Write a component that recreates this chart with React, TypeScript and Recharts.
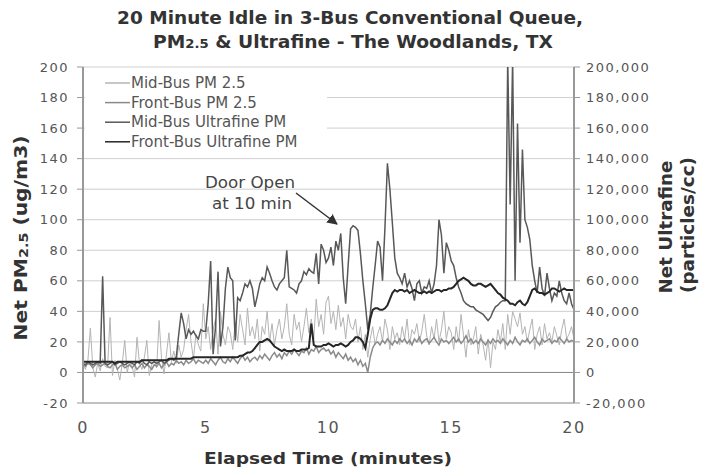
import React from 'react';
import { LineChart, Line, XAxis, YAxis, CartesianGrid, ReferenceLine } from 'recharts';

// readings every 0.1 min, 0..20 min
const MID_PM25 = [
  5, 2, 8, 29, 3, -3, 6, 1, 9, 4,
  3, 36, -2, 8, 2, -5, 6, 21, 0, 7,
  4, -3, 23, 6, 2, 10, 21, -2, 5, 8,
  3, 34, 9, -1, 12, 26, 7, 14, 6, 18,
  10, 15, 28, 38, 20, 9, 25, 18, 14, 45,
  22, 30, 15, 28, 35, 12, 40, 25, 18, 30,
  26, 15, 33, 20, 38, 28, 18, 42, 24, 30,
  22, 35, 14, 30, 25, 40, 20, 32, 18, 28,
  35, 22, 30, 45, 25, 18, 38, 28, 33, 20,
  30, 42, 26, 35, 22, 48, 30, 38, 25, 46,
  50, 32, 40, 28, 44, 30, 36, 22, 38, 30,
  28, 35, 20, 30, 15, 25, 10, 22, 30, 18,
  25, 30, 20, 35, 28, 15, 30, 22, 26, 18,
  30, 22, 35, 18, 28, 25, 32, 20, 27, 38,
  24, 18, 30, 22, 35, 20, 28, 40, 22, 30,
  26, 15, 30, 20, 38, 24, 10, 28, 18, 22,
  30, 12, 25, 18, 8, 22, 3, 20, 15, 28,
  20, 32, 15, 38, 25, 40, 35, 30, 39, 25,
  30, 20, 28, 35, 15, 25, 30, 18, 32, 22,
  26, 20, 30, 24, 18, 28, 35, 22, 25, 30,
  22,
];

const FRONT_PM25 = [
  5, 4, 6, 5, 3, 5, 6, 4, 5, 6,
  4, 3, 5, 6, 2, 4, 5, 3, 4, 5,
  3, 5, 2, 4, 6, 3, 5, 4, 2, 5,
  4, 6, 3, 5, 7, 4, 6, 5, 8, 6,
  7, 5, 8, 6, 7, 9, 6, 8, 7, 6,
  8, 6, 9, 7, 5, 8, 10, 7, 6, 9,
  7, 10, 8, 6, 9, 11, 8, 10, 7, 9,
  10, 8, 11, 9, 12, 10, 8, 11, 13, 10,
  12, 9, 13, 11, 14, 12, 15, 13, 11, 14,
  13, 16, 12, 15, 14, 17, 13, 15, 16, 14,
  15, 12, 14, 10, 13, 11, 9, 12, 8, 10,
  7, 9, 5, 8, 4, 6, 0, 10, 16, 19,
  20, 18, 21, 19, 22, 20, 18, 21, 19, 22,
  20, 22, 19, 21, 18, 22, 20, 23, 19, 21,
  22, 19, 21, 23, 20, 18, 22, 20, 21, 19,
  21, 23, 20, 22, 19, 21, 24, 20, 22, 19,
  21, 19, 22, 20, 18, 21, 19, 22, 20, 21,
  19, 22, 20, 18, 21, 19, 23, 20, 18, 21,
  20, 22, 19, 21, 23, 20, 18, 22, 20, 21,
  22, 19, 21, 20, 23, 21, 19, 22, 20, 21,
  20,
];

const MID_UFP = [
  6000, 5000, 7000, 6000, 5000, 6000, 7000, 6000, 63000, 6000,
  5000, 6000, 7000, 5000, 6000, 7000, 6000, 5000, 6000, 7000,
  6000, 5000, 7000, 6000, 8000, 6000, 5000, 7000, 6000, 7000,
  6000, 7000, 8000, 6000, 7000, 8000, 9000, 8000, 10000, 25000,
  39000, 32000, 22000, 28000, 25000, 27000, 24000, 22000, 28000, 27000,
  27000, 45000, 73000, 12000, 30000, 66000, 17000, 30000, 55000, 69000,
  62000, 60000, 21000, 49000, 47000, 52000, 58000, 56000, 60000, 55000,
  43000, 50000, 58000, 62000, 60000, 69000, 65000, 60000, 56000, 54000,
  58000, 60000, 62000, 80000, 56000, 55000, 54000, 52000, 58000, 60000,
  66000, 64000, 68000, 66000, 65000, 78000, 58000, 84000, 80000, 72000,
  75000, 82000, 70000, 86000, 80000, 91000, 62000, 45000, 70000, 94000,
  96000, 95000, 93000, 78000, 60000, 45000, 28000, 38000, 55000, 70000,
  86000, 82000, 60000, 95000, 137000, 120000, 98000, 75000, 65000, 62000,
  58000, 65000, 56000, 60000, 55000, 47000, 58000, 60000, 52000, 56000,
  55000, 60000, 52000, 58000, 70000, 100000, 90000, 65000, 85000, 80000,
  73000, 70000, 62000, 56000, 52000, 47000, 45000, 44000, 43000, 43000,
  41000, 40000, 39000, 38000, 36000, 34000, 36000, 40000, 43000, 44000,
  46000, 47000, 47000, 205000, 110000, 205000, 60000, 163000, 85000, 146000,
  100000, 95000, 87000, 70000, 60000, 52000, 69000, 55000, 50000, 65000,
  55000, 47000, 52000, 50000, 60000, 52000, 47000, 45000, 52000, 45000,
  41000,
];

const FRONT_UFP = [
  7000, 7000, 7000, 7000, 7000, 7000, 7000, 7000, 7000, 7000,
  7000, 7000, 7000, 6000, 7000, 7000, 7000, 7000, 7000, 7000,
  7000, 7000, 7000, 7000, 8000, 8000, 8000, 8000, 8000, 8000,
  8000, 8000, 8000, 8000, 8000, 9000, 9000, 9000, 9000, 9000,
  9000, 9000, 9000, 9000, 9000, 10000, 10000, 10000, 10000, 10000,
  10000, 10000, 10000, 10000, 10000, 10000, 10000, 10000, 10000, 10000,
  10000, 10000, 10000, 10000, 11000, 11000, 12000, 13000, 13000, 14000,
  16000, 18000, 20000, 20000, 21000, 22000, 21000, 19000, 17000, 16000,
  15000, 14000, 15000, 14000, 14000, 14000, 15000, 14000, 14000, 15000,
  15000, 15000, 16000, 32000, 18000, 17000, 17000, 17000, 18000, 18000,
  19000, 18000, 17000, 18000, 18000, 19000, 18000, 17000, 18000, 20000,
  21000, 23000, 23000, 22000, 20000, 16000, 25000, 35000, 41000, 42000,
  42000, 41000, 41000, 42000, 44000, 48000, 52000, 54000, 53000, 54000,
  54000, 53000, 54000, 52000, 53000, 54000, 53000, 52000, 52000, 53000,
  52000, 53000, 52000, 53000, 54000, 54000, 53000, 54000, 54000, 55000,
  55000, 56000, 58000, 60000, 61000, 62000, 61000, 60000, 58000, 57000,
  57000, 58000, 58000, 57000, 56000, 57000, 58000, 56000, 54000, 52000,
  51000, 49000, 48000, 47000, 45000, 45000, 44000, 46000, 47000, 45000,
  44000, 46000, 50000, 54000, 55000, 53000, 52000, 52000, 51000, 52000,
  53000, 55000, 55000, 54000, 53000, 54000, 55000, 54000, 54000, 54000,
  54000,
];

const PM_TICKS = [-20, 0, 20, 40, 60, 80, 100, 120, 140, 160, 180, 200];
const UFP_TICKS = [-20000, 0, 20000, 40000, 60000, 80000, 100000, 120000, 140000, 160000, 180000, 200000];
const TIME_TICKS = [0, 5, 10, 15, 20];

const SERIES = [
  { key: 'midPm', name: 'Mid-Bus PM 2.5', color: '#b4b4b4', width: 1, axis: 'left' },
  { key: 'frontPm', name: 'Front-Bus PM 2.5', color: '#8a8a8a', width: 1.5, axis: 'left' },
  { key: 'midUfp', name: 'Mid-Bus Ultrafine PM', color: '#585858', width: 1.5, axis: 'right' },
  { key: 'frontUfp', name: 'Front-Bus Ultrafine PM', color: '#262626', width: 2, axis: 'right' },
];

const data = MID_PM25.map((v, i) => ({
  t: i / 10,
  midPm: v,
  frontPm: FRONT_PM25[i],
  midUfp: MID_UFP[i],
  frontUfp: FRONT_UFP[i],
}));

const tickStyle = { fontSize: 13, fill: '#555', letterSpacing: 1.5 };

export default function App() {
  return (
    <div style={{ position: 'absolute', left: 0, top: 0, width: 712, height: 469, background: '#fff', fontFamily: 'DejaVu Sans' }}>
      <LineChart width={712} height={469} data={data} margin={{ top: 67, right: 58, bottom: 36, left: 0 }}>
        <CartesianGrid yAxisId="left" vertical={false} stroke="#cfcfcf" />
        <XAxis
          dataKey="t"
          type="number"
          domain={[0, 20]}
          ticks={TIME_TICKS}
          height={30}
          tickLine={false}
          tickSize={0}
          tickMargin={19}
          axisLine={{ stroke: '#999' }}
          tick={{ fontSize: 16, fill: '#555', letterSpacing: 1.5 }}
        />
        <YAxis
          yAxisId="left"
          width={83}
          domain={[-20, 200]}
          ticks={PM_TICKS}
          allowDataOverflow
          tickSize={6}
          tickMargin={8}
          axisLine={{ stroke: '#999', strokeWidth: 2 }}
          tickLine={{ stroke: '#999' }}
          tick={tickStyle}
        />
        <YAxis
          yAxisId="right"
          orientation="right"
          width={80}
          domain={[-20000, 200000]}
          ticks={UFP_TICKS}
          allowDataOverflow
          tickSize={6}
          tickMargin={6}
          axisLine={{ stroke: '#999', strokeWidth: 2 }}
          tickLine={{ stroke: '#999' }}
          tick={tickStyle}
          tickFormatter={(v: number) => v.toLocaleString('en-US')}
        />
        <ReferenceLine yAxisId="left" y={0} stroke="#888" />
        {SERIES.map((s) => (
          <Line
            key={s.key}
            yAxisId={s.axis}
            dataKey={s.key}
            name={s.name}
            stroke={s.color}
            strokeWidth={s.width}
            dot={false}
            type="linear"
            isAnimationActive={false}
          />
        ))}
      </LineChart>
      <svg width={712} height={469} style={{ position: 'absolute', left: 0, top: 0, pointerEvents: 'none' }}>
        <defs>
          <marker id="arr" viewBox="0 0 10 10" refX="9" refY="5" markerWidth="7" markerHeight="7" orient="auto">
            <path d="M0,0 L10,5 L0,10 z" fill="#333" />
          </marker>
        </defs>
        <g fill="#333" fontWeight="bold" fontSize={17}>
          <text x={350} y={24} textAnchor="middle" textLength={466} lengthAdjust="spacingAndGlyphs">
            20 Minute Idle in 3-Bus Conventional Queue,
          </text>
          <text x={353} y={48} textAnchor="middle" textLength={400} lengthAdjust="spacingAndGlyphs">
            PM<tspan fontSize={12}>2.5</tspan> &amp; Ultrafine - The Woodlands, TX
          </text>
          <text x={328} y={464} fontSize={16} textAnchor="middle" textLength={248} lengthAdjust="spacingAndGlyphs">
            Elapsed Time (minutes)
          </text>
          <text transform="translate(21,238) rotate(-90)" textAnchor="middle" dominantBaseline="central" textLength={205} lengthAdjust="spacingAndGlyphs">
            Net PM<tspan fontSize={12} dy={3}>2.5</tspan><tspan dy={-3}> (ug/m3)</tspan>
          </text>
          <text transform="translate(666,227) rotate(-90)" textAnchor="middle" dominantBaseline="central" textLength={133} lengthAdjust="spacingAndGlyphs">
            Net Ultrafine
          </text>
          <text transform="translate(688,225) rotate(-90)" textAnchor="middle" dominantBaseline="central" textLength={136} lengthAdjust="spacingAndGlyphs">
            (particles/cc)
          </text>
        </g>
        <rect x={85} y={70} width={242} height={82} fill="#fff" />
        {SERIES.map((s, i) => (
          <g key={s.key}>
            <line x1={105} x2={130} y1={83 + i * 19.6} y2={83 + i * 19.6} stroke={s.color} strokeWidth={1.5} />
            <text x={131} y={83 + i * 19.6} dominantBaseline="central" fontSize={15} fill="#555">
              {s.name}
            </text>
          </g>
        ))}
        <g fontSize={16} fill="#444">
          <text x={250} y={188} textAnchor="middle" textLength={90} lengthAdjust="spacingAndGlyphs">Door Open</text>
          <text x={252} y={209} textAnchor="middle" textLength={80} lengthAdjust="spacingAndGlyphs">at 10 min</text>
        </g>
        <line x1={296} y1={193} x2={337} y2={224} stroke="#333" strokeWidth={1.5} markerEnd="url(#arr)" />
      </svg>
    </div>
  );
}
